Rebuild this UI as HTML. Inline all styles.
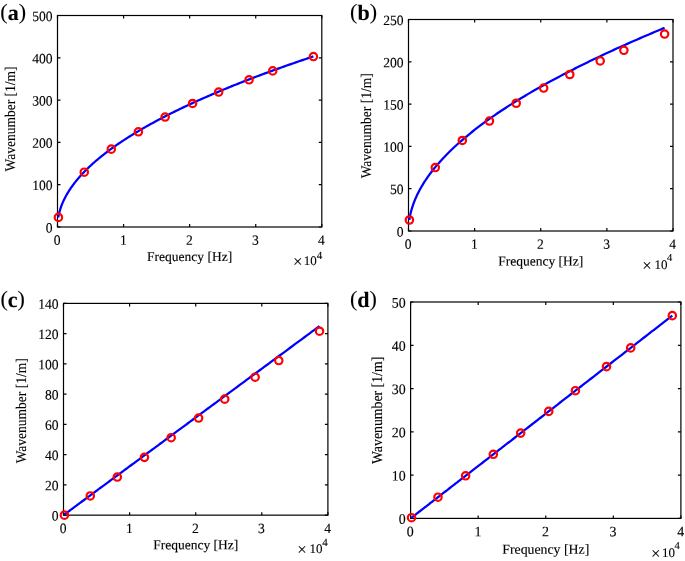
<!DOCTYPE html>
<html><head><meta charset="utf-8"><title>Wavenumber vs Frequency</title>
<style>html,body{margin:0;padding:0;background:#fff}body{width:685px;height:561px;overflow:hidden}</style></head>
<body>
<svg width="685" height="561" viewBox="0 0 685 561" style="display:block;text-rendering:geometricPrecision">
<rect width="685" height="561" fill="#fff"/>
<rect x="57.5" y="15.5" width="264.30" height="211.50" fill="none" stroke="#000" stroke-width="1.2"/>
<path d="M57.50 227.0v-3.0M57.50 15.5v3.0M123.58 227.0v-3.0M123.58 15.5v3.0M189.65 227.0v-3.0M189.65 15.5v3.0M255.73 227.0v-3.0M255.73 15.5v3.0M321.80 227.0v-3.0M321.80 15.5v3.0M57.5 227.00h3.0M321.8 227.00h-3.0M57.5 184.70h3.0M321.8 184.70h-3.0M57.5 142.40h3.0M321.8 142.40h-3.0M57.5 100.10h3.0M321.8 100.10h-3.0M57.5 57.80h3.0M321.8 57.80h-3.0M57.5 15.50h3.0M321.8 15.50h-3.0" stroke="#000" stroke-width="1.2" fill="none"/>
<polyline points="58.40,217.40 58.40,216.89 58.40,216.86 58.42,216.75 58.46,216.57 58.50,216.33 58.56,216.03 58.63,215.67 58.71,215.27 58.81,214.81 58.92,214.32 59.04,213.78 59.17,213.22 59.32,212.63 59.48,212.01 59.65,211.37 59.83,210.71 60.03,210.04 60.24,209.35 60.46,208.64 60.70,207.93 60.95,207.20 61.21,206.46 61.48,205.72 61.77,204.96 62.07,204.20 62.38,203.44 62.71,202.67 63.05,201.89 63.40,201.11 63.76,200.32 64.14,199.53 64.53,198.74 64.93,197.94 65.34,197.14 65.77,196.34 66.21,195.53 66.66,194.73 67.13,193.92 67.60,193.11 68.10,192.29 68.60,191.48 69.12,190.66 69.64,189.84 70.19,189.02 70.74,188.20 71.31,187.38 71.89,186.55 72.48,185.73 73.09,184.90 73.71,184.08 74.34,183.25 74.98,182.42 75.64,181.59 76.31,180.76 76.99,179.93 77.68,179.10 78.39,178.26 79.11,177.43 79.84,176.60 80.59,175.76 81.35,174.93 82.12,174.09 82.91,173.26 83.70,172.42 84.51,171.58 85.33,170.75 86.17,169.91 87.02,169.07 87.88,168.23 88.75,167.39 89.64,166.55 90.54,165.71 91.45,164.87 92.37,164.03 93.31,163.19 94.26,162.35 95.22,161.51 96.20,160.67 97.19,159.83 98.19,158.99 99.20,158.15 100.23,157.30 101.27,156.46 102.32,155.62 103.38,154.78 104.46,153.93 105.55,153.09 106.65,152.25 107.77,151.40 108.90,150.56 110.04,149.71 111.19,148.87 112.36,148.03 113.54,147.18 114.73,146.34 115.94,145.49 117.15,144.65 118.38,143.80 119.63,142.96 120.88,142.11 122.15,141.27 123.43,140.42 124.73,139.58 126.03,138.73 127.35,137.88 128.69,137.04 130.03,136.19 131.39,135.35 132.76,134.50 134.14,133.65 135.54,132.81 136.95,131.96 138.37,131.11 139.80,130.27 141.25,129.42 142.71,128.57 144.18,127.73 145.67,126.88 147.17,126.03 148.68,125.19 150.20,124.34 151.74,123.49 153.29,122.64 154.85,121.80 156.42,120.95 158.01,120.10 159.61,119.25 161.22,118.41 162.85,117.56 164.49,116.71 166.14,115.86 167.80,115.02 169.48,114.17 171.17,113.32 172.87,112.47 174.59,111.62 176.32,110.77 178.06,109.93 179.81,109.08 181.57,108.23 183.35,107.38 185.14,106.53 186.95,105.69 188.77,104.84 190.60,103.99 192.44,103.14 194.29,102.29 196.16,101.44 198.04,100.59 199.94,99.75 201.84,98.90 203.76,98.05 205.69,97.20 207.64,96.35 209.59,95.50 211.56,94.65 213.55,93.80 215.54,92.96 217.55,92.11 219.57,91.26 221.60,90.41 223.65,89.56 225.71,88.71 227.78,87.86 229.87,87.01 231.96,86.16 234.07,85.31 236.20,84.46 238.33,83.62 240.48,82.77 242.64,81.92 244.82,81.07 247.00,80.22 249.20,79.37 251.42,78.52 253.64,77.67 255.88,76.82 258.13,75.97 260.39,75.12 262.67,74.27 264.96,73.42 267.26,72.57 269.57,71.72 271.90,70.87 274.24,70.02 276.59,69.17 278.96,68.33 281.33,67.48 283.73,66.63 286.13,65.78 288.55,64.93 290.97,64.08 293.42,63.23 295.87,62.38 298.34,61.53 300.82,60.68 303.31,59.83 305.82,58.98 308.33,58.13 310.86,57.28 313.41,56.43" fill="none" stroke="#0000ff" stroke-width="2.25" stroke-linejoin="round"/>
<circle cx="58.40" cy="217.40" r="3.7" fill="none" stroke="#ff0000" stroke-width="2.2"/>
<circle cx="84.26" cy="172.18" r="3.7" fill="none" stroke="#ff0000" stroke-width="2.2"/>
<circle cx="111.29" cy="149.17" r="3.7" fill="none" stroke="#ff0000" stroke-width="2.2"/>
<circle cx="138.38" cy="131.82" r="3.7" fill="none" stroke="#ff0000" stroke-width="2.2"/>
<circle cx="165.14" cy="117.02" r="3.7" fill="none" stroke="#ff0000" stroke-width="2.2"/>
<circle cx="192.56" cy="103.48" r="3.7" fill="none" stroke="#ff0000" stroke-width="2.2"/>
<circle cx="218.66" cy="92.06" r="3.7" fill="none" stroke="#ff0000" stroke-width="2.2"/>
<circle cx="249.05" cy="79.80" r="3.7" fill="none" stroke="#ff0000" stroke-width="2.2"/>
<circle cx="272.71" cy="70.91" r="3.7" fill="none" stroke="#ff0000" stroke-width="2.2"/>
<circle cx="313.41" cy="56.53" r="3.7" fill="none" stroke="#ff0000" stroke-width="2.2"/>
<g font-family="'Liberation Serif',serif" font-size="13.60" fill="#000" stroke="#000" stroke-width="0.12">
<text transform="translate(57.20,244.80) scale(1,1.04) rotate(0.03)" text-anchor="middle">0</text>
<text transform="translate(123.28,244.80) scale(1,1.04) rotate(0.03)" text-anchor="middle">1</text>
<text transform="translate(189.35,244.80) scale(1,1.04) rotate(0.03)" text-anchor="middle">2</text>
<text transform="translate(255.43,244.80) scale(1,1.04) rotate(0.03)" text-anchor="middle">3</text>
<text transform="translate(321.50,244.80) scale(1,1.04) rotate(0.03)" text-anchor="middle">4</text>
<text transform="translate(52.60,232.40) scale(1,1.04) rotate(0.03)" text-anchor="end">0</text>
<text transform="translate(52.60,190.10) scale(1,1.04) rotate(0.03)" text-anchor="end">100</text>
<text transform="translate(52.60,147.80) scale(1,1.04) rotate(0.03)" text-anchor="end">200</text>
<text transform="translate(52.60,105.50) scale(1,1.04) rotate(0.03)" text-anchor="end">300</text>
<text transform="translate(52.60,63.20) scale(1,1.04) rotate(0.03)" text-anchor="end">400</text>
<text transform="translate(52.60,20.90) scale(1,1.04) rotate(0.03)" text-anchor="end">500</text>
</g>
<text transform="translate(189.65,261.1) rotate(0.03)" text-anchor="middle" font-family="'Liberation Serif',serif" font-size="13.50" fill="#000" stroke="#000" stroke-width="0.12">Frequency [Hz]</text>
<text transform="translate(14.5,119.00) rotate(-90) scale(1,1.09)" text-anchor="middle" font-family="'Liberation Serif',serif" font-size="13.50" fill="#000" stroke="#000" stroke-width="0.12">Wavenumber [1/m]</text>
<text font-family="'Liberation Serif',serif" fill="#000" stroke="#000" stroke-width="0.1"><tspan x="293.10" y="267.10" font-size="16.8">×</tspan><tspan x="303.70" y="264.90" font-size="13">10</tspan><tspan x="316.70" y="258.70" font-size="11">4</tspan></text>
<text x="0.3" y="19.9" font-family="'Liberation Serif',serif" font-size="22" fill="#000" stroke="#000" stroke-width="0.1"><tspan dy="-1">(</tspan><tspan dy="1" font-weight="bold">a</tspan><tspan dy="-1">)</tspan></text>
<rect x="408.5" y="19.5" width="264.50" height="211.50" fill="none" stroke="#000" stroke-width="1.2"/>
<path d="M408.50 231.0v-3.0M408.50 19.5v3.0M474.62 231.0v-3.0M474.62 19.5v3.0M540.75 231.0v-3.0M540.75 19.5v3.0M606.88 231.0v-3.0M606.88 19.5v3.0M673.00 231.0v-3.0M673.00 19.5v3.0M408.5 231.00h3.0M673.0 231.00h-3.0M408.5 188.70h3.0M673.0 188.70h-3.0M408.5 146.40h3.0M673.0 146.40h-3.0M408.5 104.10h3.0M673.0 104.10h-3.0M408.5 61.80h3.0M673.0 61.80h-3.0M408.5 19.50h3.0M673.0 19.50h-3.0" stroke="#000" stroke-width="1.2" fill="none"/>
<polyline points="409.40,220.00 409.40,219.43 409.41,219.39 409.42,219.27 409.46,219.07 409.50,218.79 409.56,218.44 409.63,218.03 409.71,217.56 409.81,217.04 409.92,216.47 410.04,215.86 410.17,215.21 410.32,214.53 410.48,213.82 410.65,213.09 410.83,212.33 411.03,211.55 411.24,210.76 411.47,209.94 411.70,209.12 411.95,208.28 412.21,207.43 412.49,206.57 412.77,205.70 413.07,204.83 413.39,203.94 413.71,203.05 414.05,202.15 414.40,201.25 414.76,200.34 415.14,199.42 415.53,198.50 415.93,197.58 416.35,196.66 416.77,195.73 417.21,194.79 417.67,193.86 418.13,192.92 418.61,191.97 419.10,191.03 419.61,190.08 420.12,189.13 420.65,188.18 421.20,187.23 421.75,186.27 422.32,185.31 422.90,184.35 423.49,183.39 424.10,182.43 424.72,181.46 425.35,180.50 425.99,179.53 426.65,178.56 427.32,177.59 428.00,176.62 428.70,175.65 429.41,174.67 430.13,173.70 430.86,172.72 431.61,171.75 432.37,170.77 433.14,169.79 433.92,168.81 434.72,167.83 435.53,166.85 436.36,165.86 437.19,164.88 438.04,163.89 438.90,162.91 439.77,161.92 440.66,160.94 441.56,159.95 442.47,158.96 443.40,157.97 444.34,156.98 445.29,155.99 446.25,155.00 447.23,154.00 448.22,153.01 449.22,152.02 450.23,151.02 451.26,150.03 452.30,149.03 453.35,148.03 454.42,147.04 455.50,146.04 456.59,145.04 457.69,144.04 458.81,143.04 459.94,142.04 461.08,141.04 462.23,140.04 463.40,139.04 464.58,138.03 465.77,137.03 466.98,136.03 468.20,135.02 469.43,134.02 470.67,133.01 471.93,132.00 473.20,131.00 474.48,129.99 475.78,128.98 477.09,127.97 478.41,126.96 479.74,125.95 481.09,124.94 482.44,123.93 483.82,122.92 485.20,121.91 486.60,120.90 488.01,119.89 489.43,118.87 490.87,117.86 492.31,116.84 493.78,115.83 495.25,114.81 496.74,113.80 498.24,112.78 499.75,111.77 501.27,110.75 502.81,109.73 504.36,108.71 505.92,107.69 507.50,106.67 509.09,105.65 510.69,104.63 512.30,103.61 513.93,102.59 515.57,101.57 517.22,100.55 518.89,99.52 520.57,98.50 522.26,97.48 523.96,96.45 525.68,95.43 527.41,94.40 529.15,93.38 530.90,92.35 532.67,91.33 534.45,90.30 536.24,89.27 538.05,88.24 539.87,87.22 541.70,86.19 543.54,85.16 545.40,84.13 547.27,83.10 549.15,82.07 551.04,81.04 552.95,80.00 554.87,78.97 556.80,77.94 558.75,76.91 560.71,75.87 562.68,74.84 564.66,73.80 566.66,72.77 568.67,71.73 570.69,70.70 572.73,69.66 574.78,68.63 576.84,67.59 578.91,66.55 581.00,65.51 583.10,64.48 585.21,63.44 587.33,62.40 589.47,61.36 591.62,60.32 593.78,59.28 595.96,58.24 598.15,57.19 600.35,56.15 602.56,55.11 604.79,54.07 607.03,53.02 609.28,51.98 611.55,50.93 613.82,49.89 616.11,48.84 618.42,47.80 620.73,46.75 623.06,45.71 625.40,44.66 627.76,43.61 630.12,42.56 632.50,41.52 634.90,40.47 637.30,39.42 639.72,38.37 642.15,37.32 644.59,36.27 647.05,35.22 649.52,34.17 652.00,33.12 654.50,32.06 657.00,31.01 659.52,29.96 662.06,28.90 664.60,27.85" fill="none" stroke="#0000ff" stroke-width="2.25" stroke-linejoin="round"/>
<circle cx="409.40" cy="220.00" r="3.7" fill="none" stroke="#ff0000" stroke-width="2.2"/>
<circle cx="435.28" cy="167.55" r="3.7" fill="none" stroke="#ff0000" stroke-width="2.2"/>
<circle cx="462.33" cy="140.48" r="3.7" fill="none" stroke="#ff0000" stroke-width="2.2"/>
<circle cx="489.44" cy="121.02" r="3.7" fill="none" stroke="#ff0000" stroke-width="2.2"/>
<circle cx="516.22" cy="103.25" r="3.7" fill="none" stroke="#ff0000" stroke-width="2.2"/>
<circle cx="543.66" cy="88.03" r="3.7" fill="none" stroke="#ff0000" stroke-width="2.2"/>
<circle cx="569.78" cy="74.49" r="3.7" fill="none" stroke="#ff0000" stroke-width="2.2"/>
<circle cx="600.20" cy="60.95" r="3.7" fill="none" stroke="#ff0000" stroke-width="2.2"/>
<circle cx="623.87" cy="50.29" r="3.7" fill="none" stroke="#ff0000" stroke-width="2.2"/>
<circle cx="664.60" cy="34.05" r="3.7" fill="none" stroke="#ff0000" stroke-width="2.2"/>
<g font-family="'Liberation Serif',serif" font-size="13.60" fill="#000" stroke="#000" stroke-width="0.12">
<text transform="translate(408.20,248.80) scale(1,1.04) rotate(0.03)" text-anchor="middle">0</text>
<text transform="translate(474.32,248.80) scale(1,1.04) rotate(0.03)" text-anchor="middle">1</text>
<text transform="translate(540.45,248.80) scale(1,1.04) rotate(0.03)" text-anchor="middle">2</text>
<text transform="translate(606.58,248.80) scale(1,1.04) rotate(0.03)" text-anchor="middle">3</text>
<text transform="translate(672.70,248.80) scale(1,1.04) rotate(0.03)" text-anchor="middle">4</text>
<text transform="translate(403.60,236.40) scale(1,1.04) rotate(0.03)" text-anchor="end">0</text>
<text transform="translate(403.60,194.10) scale(1,1.04) rotate(0.03)" text-anchor="end">50</text>
<text transform="translate(403.60,151.80) scale(1,1.04) rotate(0.03)" text-anchor="end">100</text>
<text transform="translate(403.60,109.50) scale(1,1.04) rotate(0.03)" text-anchor="end">150</text>
<text transform="translate(403.60,67.20) scale(1,1.04) rotate(0.03)" text-anchor="end">200</text>
<text transform="translate(403.60,24.90) scale(1,1.04) rotate(0.03)" text-anchor="end">250</text>
</g>
<text transform="translate(540.75,265.4) rotate(0.03)" text-anchor="middle" font-family="'Liberation Serif',serif" font-size="13.50" fill="#000" stroke="#000" stroke-width="0.12">Frequency [Hz]</text>
<text transform="translate(371.4,125.85) rotate(-90) scale(1,1.09)" text-anchor="middle" font-family="'Liberation Serif',serif" font-size="13.50" fill="#000" stroke="#000" stroke-width="0.12">Wavenumber [1/m]</text>
<text font-family="'Liberation Serif',serif" fill="#000" stroke="#000" stroke-width="0.1"><tspan x="642.20" y="270.70" font-size="16.8">×</tspan><tspan x="654.40" y="268.50" font-size="13">10</tspan><tspan x="667.10" y="261.10" font-size="10.5">4</tspan></text>
<text x="350.1" y="20.15" font-family="'Liberation Serif',serif" font-size="22" fill="#000" stroke="#000" stroke-width="0.1"><tspan dy="-1">(</tspan><tspan dy="1" font-weight="bold">b</tspan><tspan dy="-1">)</tspan></text>
<rect x="63.5" y="303.4" width="264.40" height="211.75" fill="none" stroke="#000" stroke-width="1.2"/>
<path d="M63.50 515.15v-3.0M63.50 303.4v3.0M129.60 515.15v-3.0M129.60 303.4v3.0M195.70 515.15v-3.0M195.70 303.4v3.0M261.80 515.15v-3.0M261.80 303.4v3.0M327.90 515.15v-3.0M327.90 303.4v3.0M63.5 515.15h3.0M327.9 515.15h-3.0M63.5 484.90h3.0M327.9 484.90h-3.0M63.5 454.65h3.0M327.9 454.65h-3.0M63.5 424.40h3.0M327.9 424.40h-3.0M63.5 394.15h3.0M327.9 394.15h-3.0M63.5 363.90h3.0M327.9 363.90h-3.0M63.5 333.65h3.0M327.9 333.65h-3.0M63.5 303.40h3.0M327.9 303.40h-3.0" stroke="#000" stroke-width="1.2" fill="none"/>
<polyline points="64.40,515.15 64.40,514.49 64.41,514.48 64.42,514.47 64.46,514.44 64.50,514.41 64.56,514.37 64.63,514.32 64.71,514.26 64.81,514.18 64.92,514.10 65.04,514.02 65.17,513.92 65.32,513.81 65.48,513.69 65.65,513.56 65.83,513.43 66.03,513.28 66.24,513.12 66.47,512.96 66.70,512.79 66.95,512.60 67.21,512.41 67.49,512.21 67.77,511.99 68.07,511.77 68.38,511.54 68.71,511.30 69.05,511.05 69.40,510.79 69.76,510.53 70.14,510.25 70.53,509.96 70.93,509.66 71.34,509.36 71.77,509.04 72.21,508.72 72.66,508.38 73.13,508.04 73.61,507.68 74.10,507.32 74.60,506.95 75.12,506.57 75.65,506.18 76.19,505.78 76.75,505.37 77.31,504.95 77.89,504.52 78.49,504.08 79.09,503.63 79.71,503.18 80.34,502.71 80.99,502.24 81.64,501.75 82.31,501.26 83.00,500.75 83.69,500.24 84.40,499.72 85.12,499.18 85.85,498.64 86.60,498.09 87.36,497.53 88.13,496.96 88.91,496.38 89.71,495.79 90.52,495.19 91.34,494.59 92.18,493.97 93.03,493.34 93.89,492.71 94.76,492.06 95.65,491.41 96.55,490.74 97.46,490.07 98.39,489.39 99.32,488.69 100.27,487.99 101.24,487.28 102.21,486.56 103.20,485.83 104.20,485.09 105.22,484.34 106.24,483.58 107.28,482.82 108.33,482.04 109.40,481.25 110.48,480.46 111.57,479.65 112.67,478.84 113.79,478.01 114.92,477.18 116.06,476.34 117.21,475.48 118.38,474.62 119.56,473.75 120.75,472.87 121.96,471.98 123.18,471.08 124.41,470.17 125.65,469.25 126.91,468.32 128.18,467.39 129.46,466.44 130.75,465.48 132.06,464.52 133.38,463.54 134.71,462.56 136.06,461.56 137.42,460.56 138.79,459.55 140.17,458.53 141.57,457.50 142.98,456.45 144.40,455.40 145.84,454.34 147.28,453.28 148.74,452.20 150.22,451.11 151.70,450.01 153.20,448.90 154.71,447.79 156.24,446.66 157.77,445.53 159.32,444.38 160.89,443.23 162.46,442.07 164.05,440.89 165.65,439.71 167.26,438.52 168.89,437.32 170.53,436.11 172.18,434.89 173.85,433.66 175.52,432.42 177.21,431.17 178.92,429.91 180.63,428.65 182.36,427.37 184.10,426.08 185.86,424.79 187.62,423.48 189.40,422.17 191.19,420.85 193.00,419.51 194.82,418.17 196.65,416.82 198.49,415.46 200.35,414.09 202.21,412.71 204.10,411.32 205.99,409.92 207.90,408.51 209.82,407.09 211.75,405.67 213.69,404.23 215.65,402.78 217.62,401.33 219.61,399.86 221.60,398.39 223.61,396.91 225.63,395.41 227.67,393.91 229.71,392.40 231.77,390.88 233.85,389.35 235.93,387.81 238.03,386.26 240.14,384.70 242.27,383.13 244.40,381.55 246.55,379.96 248.71,378.37 250.89,376.76 253.08,375.15 255.28,373.52 257.49,371.89 259.71,370.24 261.95,368.59 264.20,366.93 266.47,365.26 268.75,363.57 271.04,361.88 273.34,360.18 275.65,358.47 277.98,356.75 280.32,355.03 282.67,353.29 285.04,351.54 287.42,349.78 289.81,348.02 292.22,346.24 294.63,344.46 297.06,342.66 299.50,340.86 301.96,339.04 304.43,337.22 306.91,335.39 309.40,333.55 311.91,331.70 314.43,329.84 316.96,327.97 319.51,326.09" fill="none" stroke="#0000ff" stroke-width="2.25" stroke-linejoin="round"/>
<circle cx="64.40" cy="515.15" r="3.7" fill="none" stroke="#ff0000" stroke-width="2.2"/>
<circle cx="90.27" cy="495.94" r="3.7" fill="none" stroke="#ff0000" stroke-width="2.2"/>
<circle cx="117.31" cy="477.03" r="3.7" fill="none" stroke="#ff0000" stroke-width="2.2"/>
<circle cx="144.41" cy="457.37" r="3.7" fill="none" stroke="#ff0000" stroke-width="2.2"/>
<circle cx="171.18" cy="437.71" r="3.7" fill="none" stroke="#ff0000" stroke-width="2.2"/>
<circle cx="198.61" cy="418.05" r="3.7" fill="none" stroke="#ff0000" stroke-width="2.2"/>
<circle cx="224.72" cy="399.14" r="3.7" fill="none" stroke="#ff0000" stroke-width="2.2"/>
<circle cx="255.12" cy="377.21" r="3.7" fill="none" stroke="#ff0000" stroke-width="2.2"/>
<circle cx="278.79" cy="360.57" r="3.7" fill="none" stroke="#ff0000" stroke-width="2.2"/>
<circle cx="319.51" cy="331.23" r="3.7" fill="none" stroke="#ff0000" stroke-width="2.2"/>
<g font-family="'Liberation Serif',serif" font-size="13.60" fill="#000" stroke="#000" stroke-width="0.12">
<text transform="translate(63.20,532.95) scale(1,1.04) rotate(0.03)" text-anchor="middle">0</text>
<text transform="translate(129.30,532.95) scale(1,1.04) rotate(0.03)" text-anchor="middle">1</text>
<text transform="translate(195.40,532.95) scale(1,1.04) rotate(0.03)" text-anchor="middle">2</text>
<text transform="translate(261.50,532.95) scale(1,1.04) rotate(0.03)" text-anchor="middle">3</text>
<text transform="translate(327.60,532.95) scale(1,1.04) rotate(0.03)" text-anchor="middle">4</text>
<text transform="translate(58.60,520.55) scale(1,1.04) rotate(0.03)" text-anchor="end">0</text>
<text transform="translate(58.60,490.30) scale(1,1.04) rotate(0.03)" text-anchor="end">20</text>
<text transform="translate(58.60,460.05) scale(1,1.04) rotate(0.03)" text-anchor="end">40</text>
<text transform="translate(58.60,429.80) scale(1,1.04) rotate(0.03)" text-anchor="end">60</text>
<text transform="translate(58.60,399.55) scale(1,1.04) rotate(0.03)" text-anchor="end">80</text>
<text transform="translate(58.60,369.30) scale(1,1.04) rotate(0.03)" text-anchor="end">100</text>
<text transform="translate(58.60,339.05) scale(1,1.04) rotate(0.03)" text-anchor="end">120</text>
<text transform="translate(58.60,308.80) scale(1,1.04) rotate(0.03)" text-anchor="end">140</text>
</g>
<text transform="translate(195.70,549.2) rotate(0.03)" text-anchor="middle" font-family="'Liberation Serif',serif" font-size="13.50" fill="#000" stroke="#000" stroke-width="0.12">Frequency [Hz]</text>
<text transform="translate(26.4,410.80) rotate(-90) scale(1,1.09)" text-anchor="middle" font-family="'Liberation Serif',serif" font-size="13.50" fill="#000" stroke="#000" stroke-width="0.12">Wavenumber [1/m]</text>
<text font-family="'Liberation Serif',serif" fill="#000" stroke="#000" stroke-width="0.1"><tspan x="297.20" y="555.00" font-size="16.8">×</tspan><tspan x="309.60" y="552.80" font-size="13">10</tspan><tspan x="322.20" y="546.20" font-size="11">4</tspan></text>
<text x="0.5" y="306.7" font-family="'Liberation Serif',serif" font-size="22" fill="#000" stroke="#000" stroke-width="0.1"><tspan dy="-1">(</tspan><tspan dy="1" font-weight="bold">c</tspan><tspan dy="-1">)</tspan></text>
<rect x="410.6" y="302.0" width="270.30" height="216.40" fill="none" stroke="#000" stroke-width="1.2"/>
<path d="M410.60 518.4v-3.0M410.60 302.0v3.0M478.18 518.4v-3.0M478.18 302.0v3.0M545.75 518.4v-3.0M545.75 302.0v3.0M613.33 518.4v-3.0M613.33 302.0v3.0M680.90 518.4v-3.0M680.90 302.0v3.0M410.6 518.40h3.0M680.9 518.40h-3.0M410.6 475.12h3.0M680.9 475.12h-3.0M410.6 431.84h3.0M680.9 431.84h-3.0M410.6 388.56h3.0M680.9 388.56h-3.0M410.6 345.28h3.0M680.9 345.28h-3.0M410.6 302.00h3.0M680.9 302.00h-3.0" stroke="#000" stroke-width="1.2" fill="none"/>
<polyline points="411.52,517.69 411.52,517.69 411.53,517.68 411.55,517.67 411.58,517.64 411.62,517.61 411.68,517.56 411.75,517.51 411.84,517.44 411.94,517.36 412.05,517.28 412.17,517.18 412.31,517.08 412.46,516.96 412.62,516.83 412.80,516.70 412.99,516.55 413.19,516.39 413.40,516.23 413.63,516.05 413.87,515.86 414.13,515.67 414.39,515.46 414.67,515.24 414.97,515.02 415.27,514.78 415.59,514.53 415.93,514.27 416.27,514.01 416.63,513.73 417.00,513.44 417.39,513.14 417.78,512.83 418.20,512.52 418.62,512.19 419.06,511.85 419.51,511.50 419.97,511.14 420.44,510.77 420.93,510.39 421.44,510.00 421.95,509.61 422.48,509.20 423.02,508.78 423.57,508.35 424.14,507.91 424.72,507.46 425.32,507.00 425.92,506.53 426.54,506.05 427.17,505.56 427.82,505.06 428.48,504.55 429.15,504.03 429.83,503.50 430.53,502.96 431.24,502.41 431.97,501.85 432.70,501.28 433.45,500.70 434.22,500.10 434.99,499.50 435.78,498.89 436.58,498.27 437.40,497.64 438.22,497.00 439.07,496.35 439.92,495.68 440.79,495.01 441.67,494.33 442.56,493.64 443.47,492.94 444.39,492.22 445.32,491.50 446.26,490.77 447.22,490.03 448.19,489.27 449.18,488.51 450.18,487.74 451.19,486.96 452.21,486.16 453.25,485.36 454.30,484.55 455.36,483.72 456.44,482.89 457.52,482.05 458.63,481.19 459.74,480.33 460.87,479.45 462.01,478.57 463.16,477.68 464.33,476.77 465.51,475.86 466.70,474.93 467.91,474.00 469.13,473.05 470.36,472.10 471.61,471.13 472.87,470.16 474.14,469.17 475.42,468.18 476.72,467.17 478.03,466.16 479.35,465.13 480.69,464.10 482.04,463.05 483.40,462.00 484.78,460.93 486.17,459.85 487.57,458.77 488.98,457.67 490.41,456.57 491.85,455.45 493.31,454.32 494.77,453.19 496.25,452.04 497.75,450.88 499.25,449.72 500.77,448.54 502.30,447.35 503.85,446.16 505.41,444.95 506.98,443.73 508.56,442.50 510.16,441.27 511.77,440.02 513.39,438.76 515.03,437.49 516.68,436.21 518.34,434.93 520.02,433.63 521.71,432.32 523.41,431.00 525.12,429.67 526.85,428.33 528.59,426.99 530.35,425.63 532.11,424.26 533.89,422.88 535.69,421.49 537.49,420.09 539.31,418.68 541.14,417.26 542.99,415.83 544.85,414.39 546.72,412.94 548.60,411.48 550.50,410.01 552.41,408.53 554.33,407.04 556.27,405.54 558.22,404.03 560.18,402.51 562.16,400.98 564.15,399.44 566.15,397.89 568.16,396.33 570.19,394.76 572.23,393.18 574.28,391.59 576.35,389.98 578.43,388.37 580.52,386.75 582.63,385.12 584.75,383.48 586.88,381.83 589.03,380.16 591.18,378.49 593.35,376.81 595.54,375.12 597.74,373.42 599.95,371.70 602.17,369.98 604.41,368.25 606.66,366.51 608.92,364.75 611.19,362.99 613.48,361.22 615.78,359.43 618.10,357.64 620.43,355.84 622.77,354.02 625.12,352.20 627.49,350.37 629.87,348.52 632.26,346.67 634.67,344.80 637.08,342.93 639.52,341.05 641.96,339.15 644.42,337.25 646.89,335.33 649.37,333.41 651.87,331.47 654.38,329.53 656.90,327.57 659.44,325.61 661.99,323.63 664.55,321.65 667.13,319.65 669.72,317.65 672.32,315.63" fill="none" stroke="#0000ff" stroke-width="2.25" stroke-linejoin="round"/>
<circle cx="411.52" cy="517.69" r="3.7" fill="none" stroke="#ff0000" stroke-width="2.2"/>
<circle cx="437.97" cy="497.20" r="3.7" fill="none" stroke="#ff0000" stroke-width="2.2"/>
<circle cx="465.61" cy="475.78" r="3.7" fill="none" stroke="#ff0000" stroke-width="2.2"/>
<circle cx="493.31" cy="454.32" r="3.7" fill="none" stroke="#ff0000" stroke-width="2.2"/>
<circle cx="520.68" cy="433.12" r="3.7" fill="none" stroke="#ff0000" stroke-width="2.2"/>
<circle cx="548.72" cy="411.39" r="3.7" fill="none" stroke="#ff0000" stroke-width="2.2"/>
<circle cx="575.42" cy="390.71" r="3.7" fill="none" stroke="#ff0000" stroke-width="2.2"/>
<circle cx="606.50" cy="366.63" r="3.7" fill="none" stroke="#ff0000" stroke-width="2.2"/>
<circle cx="630.69" cy="347.88" r="3.7" fill="none" stroke="#ff0000" stroke-width="2.2"/>
<circle cx="672.32" cy="315.63" r="3.7" fill="none" stroke="#ff0000" stroke-width="2.2"/>
<g font-family="'Liberation Serif',serif" font-size="13.91" fill="#000" stroke="#000" stroke-width="0.12">
<text transform="translate(410.30,536.20) scale(1,1.04) rotate(0.03)" text-anchor="middle">0</text>
<text transform="translate(477.88,536.20) scale(1,1.04) rotate(0.03)" text-anchor="middle">1</text>
<text transform="translate(545.45,536.20) scale(1,1.04) rotate(0.03)" text-anchor="middle">2</text>
<text transform="translate(613.03,536.20) scale(1,1.04) rotate(0.03)" text-anchor="middle">3</text>
<text transform="translate(680.60,536.20) scale(1,1.04) rotate(0.03)" text-anchor="middle">4</text>
<text transform="translate(405.70,523.80) scale(1,1.04) rotate(0.03)" text-anchor="end">0</text>
<text transform="translate(405.70,480.52) scale(1,1.04) rotate(0.03)" text-anchor="end">10</text>
<text transform="translate(405.70,437.24) scale(1,1.04) rotate(0.03)" text-anchor="end">20</text>
<text transform="translate(405.70,393.96) scale(1,1.04) rotate(0.03)" text-anchor="end">30</text>
<text transform="translate(405.70,350.68) scale(1,1.04) rotate(0.03)" text-anchor="end">40</text>
<text transform="translate(405.70,307.40) scale(1,1.04) rotate(0.03)" text-anchor="end">50</text>
</g>
<text transform="translate(545.75,553.7) rotate(0.03)" text-anchor="middle" font-family="'Liberation Serif',serif" font-size="13.81" fill="#000" stroke="#000" stroke-width="0.12">Frequency [Hz]</text>
<text transform="translate(382,410.40) rotate(-90) scale(1,1.09)" text-anchor="middle" font-family="'Liberation Serif',serif" font-size="13.81" fill="#000" stroke="#000" stroke-width="0.12">Wavenumber [1/m]</text>
<text font-family="'Liberation Serif',serif" fill="#000" stroke="#000" stroke-width="0.1"><tspan x="651.00" y="559.00" font-size="16.8">×</tspan><tspan x="661.90" y="556.80" font-size="13">10</tspan><tspan x="674.60" y="549.30" font-size="10.6">4</tspan></text>
<text x="350" y="306.8" font-family="'Liberation Serif',serif" font-size="22" fill="#000" stroke="#000" stroke-width="0.1"><tspan dy="-1">(</tspan><tspan dy="1" font-weight="bold">d</tspan><tspan dy="-1">)</tspan></text>
</svg>
</body></html>
